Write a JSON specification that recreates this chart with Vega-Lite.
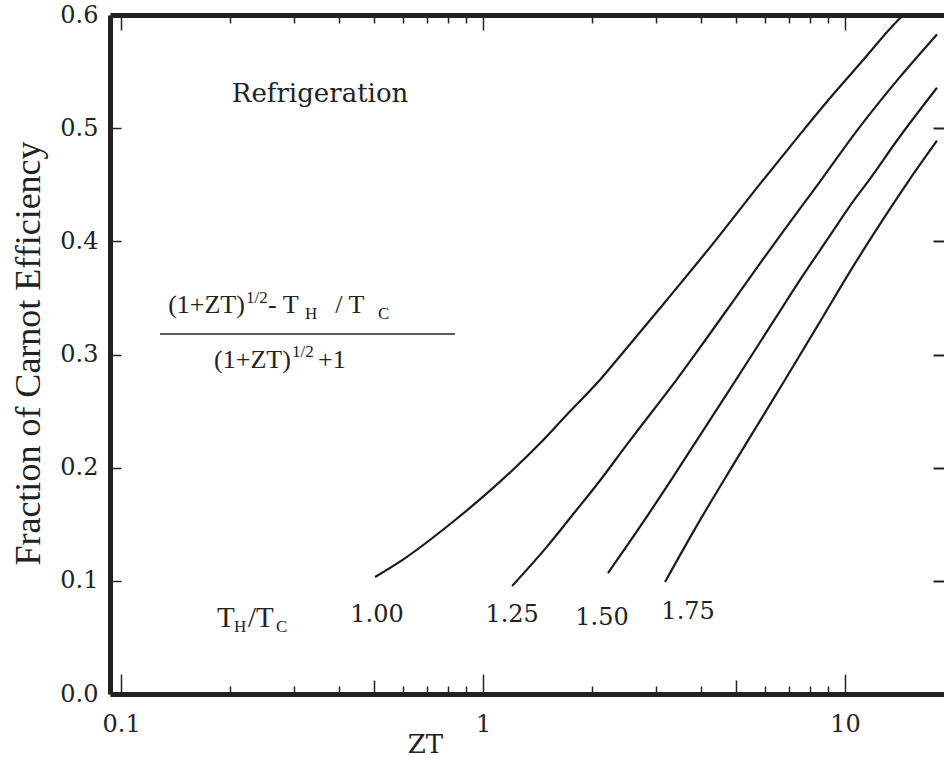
{
  "$schema": "https://vega.github.io/schema/vega-lite/v6.json",
  "width": 834,
  "height": 679,
  "autosize": "none",
  "padding": {"left": 110, "top": 15, "right": 0, "bottom": 64},
  "background": "white",
  "config": {
    "view": {"stroke": null},
    "font": "DejaVu Serif",
    "text": {"font": "DejaVu Serif", "color": "#222"},
    "axis": {"grid": false, "domainColor": "#222", "tickColor": "#222", "labelColor": "#222", "titleColor": "#222", "labelFont": "DejaVu Serif", "titleFont": "DejaVu Serif", "titleFontWeight": "normal"}
  },
  "datasets": {
    "curves": [
      {"curve": "1.00", "zt": 0.503, "eff": 0.1034},
      {"curve": "1.00", "zt": 0.601, "eff": 0.1188},
      {"curve": "1.00", "zt": 0.826, "eff": 0.1522},
      {"curve": "1.00", "zt": 1.066, "eff": 0.1821},
      {"curve": "1.00", "zt": 1.437, "eff": 0.2215},
      {"curve": "1.00", "zt": 1.706, "eff": 0.2470},
      {"curve": "1.00", "zt": 2.105, "eff": 0.2777},
      {"curve": "1.00", "zt": 2.499, "eff": 0.3060},
      {"curve": "1.00", "zt": 3.223, "eff": 0.3484},
      {"curve": "1.00", "zt": 4.430, "eff": 0.4024},
      {"curve": "1.00", "zt": 5.824, "eff": 0.4508},
      {"curve": "1.00", "zt": 7.510, "eff": 0.4945},
      {"curve": "1.00", "zt": 9.266, "eff": 0.5297},
      {"curve": "1.00", "zt": 11.21, "eff": 0.5600},
      {"curve": "1.00", "zt": 13.92, "eff": 0.5945},
      {"curve": "1.00", "zt": 14.5, "eff": 0.6000},
      {"curve": "1.25", "zt": 1.203, "eff": 0.0954},
      {"curve": "1.25", "zt": 1.502, "eff": 0.1302},
      {"curve": "1.25", "zt": 1.773, "eff": 0.1588},
      {"curve": "1.25", "zt": 2.105, "eff": 0.1887},
      {"curve": "1.25", "zt": 2.499, "eff": 0.2206},
      {"curve": "1.25", "zt": 2.949, "eff": 0.2505},
      {"curve": "1.25", "zt": 3.435, "eff": 0.2783},
      {"curve": "1.25", "zt": 4.157, "eff": 0.3148},
      {"curve": "1.25", "zt": 4.905, "eff": 0.3470},
      {"curve": "1.25", "zt": 5.824, "eff": 0.3805},
      {"curve": "1.25", "zt": 6.742, "eff": 0.4086},
      {"curve": "1.25", "zt": 8.530, "eff": 0.4528},
      {"curve": "1.25", "zt": 10.79, "eff": 0.4978},
      {"curve": "1.25", "zt": 14.19, "eff": 0.5453},
      {"curve": "1.25", "zt": 17.95, "eff": 0.5829},
      {"curve": "1.50", "zt": 2.215, "eff": 0.1069},
      {"curve": "1.50", "zt": 2.715, "eff": 0.1478},
      {"curve": "1.50", "zt": 3.348, "eff": 0.1917},
      {"curve": "1.50", "zt": 3.976, "eff": 0.2286},
      {"curve": "1.50", "zt": 5.064, "eff": 0.2805},
      {"curve": "1.50", "zt": 6.326, "eff": 0.3288},
      {"curve": "1.50", "zt": 7.656, "eff": 0.3699},
      {"curve": "1.50", "zt": 8.918, "eff": 0.4012},
      {"curve": "1.50", "zt": 10.52, "eff": 0.4350},
      {"curve": "1.50", "zt": 11.72, "eff": 0.4552},
      {"curve": "1.50", "zt": 13.92, "eff": 0.4891},
      {"curve": "1.50", "zt": 17.95, "eff": 0.5357},
      {"curve": "1.75", "zt": 3.183, "eff": 0.0990},
      {"curve": "1.75", "zt": 3.976, "eff": 0.1536},
      {"curve": "1.75", "zt": 4.905, "eff": 0.2022},
      {"curve": "1.75", "zt": 5.824, "eff": 0.2414},
      {"curve": "1.75", "zt": 6.829, "eff": 0.2777},
      {"curve": "1.75", "zt": 8.371, "eff": 0.3246},
      {"curve": "1.75", "zt": 10.32, "eff": 0.3733},
      {"curve": "1.75", "zt": 11.95, "eff": 0.4057},
      {"curve": "1.75", "zt": 14.93, "eff": 0.4526},
      {"curve": "1.75", "zt": 17.95, "eff": 0.4889}
    ],
    "curveLabels": [
      {"t": "1.00", "zt": 0.5096, "eff": 0.0698},
      {"t": "1.25", "zt": 1.203, "eff": 0.0698},
      {"t": "1.50", "zt": 2.132, "eff": 0.0672},
      {"t": "1.75", "zt": 3.685, "eff": 0.0725}
    ],
    "formulaText": [
      {"t": "(1+ZT)", "zt": 0.1349, "eff": 0.3367},
      {"t": "- T", "zt": 0.2547, "eff": 0.3367},
      {"t": "/  T", "zt": 0.3903, "eff": 0.3367},
      {"t": "(1+ZT)", "zt": 0.1807, "eff": 0.2881},
      {"t": "+1", "zt": 0.3501, "eff": 0.2881}
    ],
    "ratioText": [
      {"t": "T", "zt": 0.1842, "eff": 0.0592},
      {"t": "/T", "zt": 0.2243, "eff": 0.0592}
    ],
    "smallText": [
      {"t": "1/2", "zt": 0.2214, "eff": 0.3455},
      {"t": "H", "zt": 0.3223, "eff": 0.3314},
      {"t": "C", "zt": 0.5129, "eff": 0.3314},
      {"t": "1/2", "zt": 0.2968, "eff": 0.2978},
      {"t": "H", "zt": 0.2052, "eff": 0.0548},
      {"t": "C", "zt": 0.2680, "eff": 0.0548}
    ],
    "heading": [
      {"t": "Refrigeration", "zt": 0.3546, "eff": 0.5231}
    ],
    "fractionBar": [
      {"zt": 0.1281, "zt2": 0.8369, "eff": 0.3181}
    ]
  },
  "resolve": {"axis": {"x": "independent", "y": "independent"}},
  "layer": [
    {
      "data": {"name": "curves"},
      "mark": {"type": "line", "color": "#1c1c1c", "strokeWidth": 2.2, "interpolate": "monotone", "clip": true},
      "encoding": {
        "x": {
          "field": "zt", "type": "quantitative",
          "scale": {"type": "log", "domain": [0.0932, 18.77], "nice": false},
          "axis": {
            "orient": "bottom",
            "values": [0.1, 0.2, 0.3, 0.4, 0.5, 0.6, 0.7, 0.8, 0.9, 1, 2, 3, 4, 5, 6, 7, 8, 9, 10],
            "format": "~g",
            "labelExpr": "datum.value == 0.1 || datum.value == 1 || datum.value == 10 ? datum.label : ''",
            "tickSize": {"condition": [{"test": "datum.value == 0.1 || datum.value == 1 || datum.value == 10", "value": -20}, {"test": "datum.value == 0.5 || datum.value == 5", "value": -14}], "value": -8},
            "tickWidth": 1.5,
            "domainWidth": 5,
            "labelFontSize": 24,
            "labelPadding": 38,
            "title": "ZT",
            "titleFontSize": 26,
            "titleX": 315,
            "titleY": 63,
            "titleAlign": "center",
            "titleBaseline": "bottom"
          }
        },
        "y": {
          "field": "eff", "type": "quantitative",
          "scale": {"domain": [0, 0.6], "nice": false},
          "axis": {
            "orient": "left",
            "values": [0, 0.1, 0.2, 0.3, 0.4, 0.5, 0.6],
            "format": ".1f",
            "tickSize": -11,
            "tickWidth": 1.5,
            "domainWidth": 5,
            "labelFontSize": 24,
            "labelPadding": 23,
            "title": "Fraction of Carnot Efficiency",
            "titleFont": "Liberation Serif",
            "titleFontSize": 36,
            "titleX": -82,
            "titleY": 338,
            "titleAngle": -90,
            "titleAlign": "center",
            "titleBaseline": "middle"
          }
        },
        "detail": {"field": "curve"}
      }
    },
    {
      "data": {"name": "curveLabels"},
      "mark": {"type": "text", "fontSize": 24, "align": "center", "baseline": "middle"},
      "encoding": {
        "x": {
          "field": "zt", "type": "quantitative",
          "scale": {"type": "log", "domain": [0.0932, 18.77], "nice": false},
          "axis": {
            "orient": "top",
            "values": [0.1, 0.2, 0.3, 0.4, 0.5, 0.6, 0.7, 0.8, 0.9, 1, 2, 3, 4, 5, 6, 7, 8, 9, 10],
            "labels": false,
            "title": null,
            "domainWidth": 5,
            "tickSize": {"condition": {"test": "datum.value == 0.1 || datum.value == 1 || datum.value == 10", "value": -15}, "value": -8},
            "tickWidth": 1.5
          }
        },
        "y": {
          "field": "eff", "type": "quantitative",
          "scale": {"domain": [0, 0.6], "nice": false},
          "axis": {
            "orient": "right",
            "values": [0.1, 0.2, 0.3, 0.4, 0.5],
            "labels": false,
            "title": null,
            "domain": false,
            "tickSize": -11,
            "tickWidth": 2
          }
        },
        "text": {"field": "t"}
      }
    },
    {
      "data": {"name": "formulaText"},
      "mark": {"type": "text", "font": "Liberation Serif", "fontSize": 26, "align": "left", "baseline": "alphabetic"},
      "encoding": {
        "x": {"field": "zt", "type": "quantitative", "scale": {"type": "log", "domain": [0.0932, 18.77], "nice": false}, "axis": null},
        "y": {"field": "eff", "type": "quantitative", "scale": {"domain": [0, 0.6], "nice": false}, "axis": null},
        "text": {"field": "t"}
      }
    },
    {
      "data": {"name": "ratioText"},
      "mark": {"type": "text", "font": "Liberation Serif", "fontSize": 29, "align": "left", "baseline": "alphabetic"},
      "encoding": {
        "x": {"field": "zt", "type": "quantitative", "scale": {"type": "log", "domain": [0.0932, 18.77], "nice": false}, "axis": null},
        "y": {"field": "eff", "type": "quantitative", "scale": {"domain": [0, 0.6], "nice": false}, "axis": null},
        "text": {"field": "t"}
      }
    },
    {
      "data": {"name": "smallText"},
      "mark": {"type": "text", "font": "Liberation Serif", "fontSize": 17, "align": "left", "baseline": "alphabetic"},
      "encoding": {
        "x": {"field": "zt", "type": "quantitative", "scale": {"type": "log", "domain": [0.0932, 18.77], "nice": false}, "axis": null},
        "y": {"field": "eff", "type": "quantitative", "scale": {"domain": [0, 0.6], "nice": false}, "axis": null},
        "text": {"field": "t"}
      }
    },
    {
      "data": {"name": "heading"},
      "mark": {"type": "text", "fontSize": 26, "align": "center", "baseline": "alphabetic"},
      "encoding": {
        "x": {"field": "zt", "type": "quantitative", "scale": {"type": "log", "domain": [0.0932, 18.77], "nice": false}, "axis": null},
        "y": {"field": "eff", "type": "quantitative", "scale": {"domain": [0, 0.6], "nice": false}, "axis": null},
        "text": {"field": "t"}
      }
    },
    {
      "data": {"name": "fractionBar"},
      "mark": {"type": "rule", "color": "#222", "strokeWidth": 1.6},
      "encoding": {
        "x": {"field": "zt", "type": "quantitative", "scale": {"type": "log", "domain": [0.0932, 18.77], "nice": false}, "axis": null},
        "x2": {"field": "zt2"},
        "y": {"field": "eff", "type": "quantitative", "scale": {"domain": [0, 0.6], "nice": false}, "axis": null}
      }
    }
  ]
}
